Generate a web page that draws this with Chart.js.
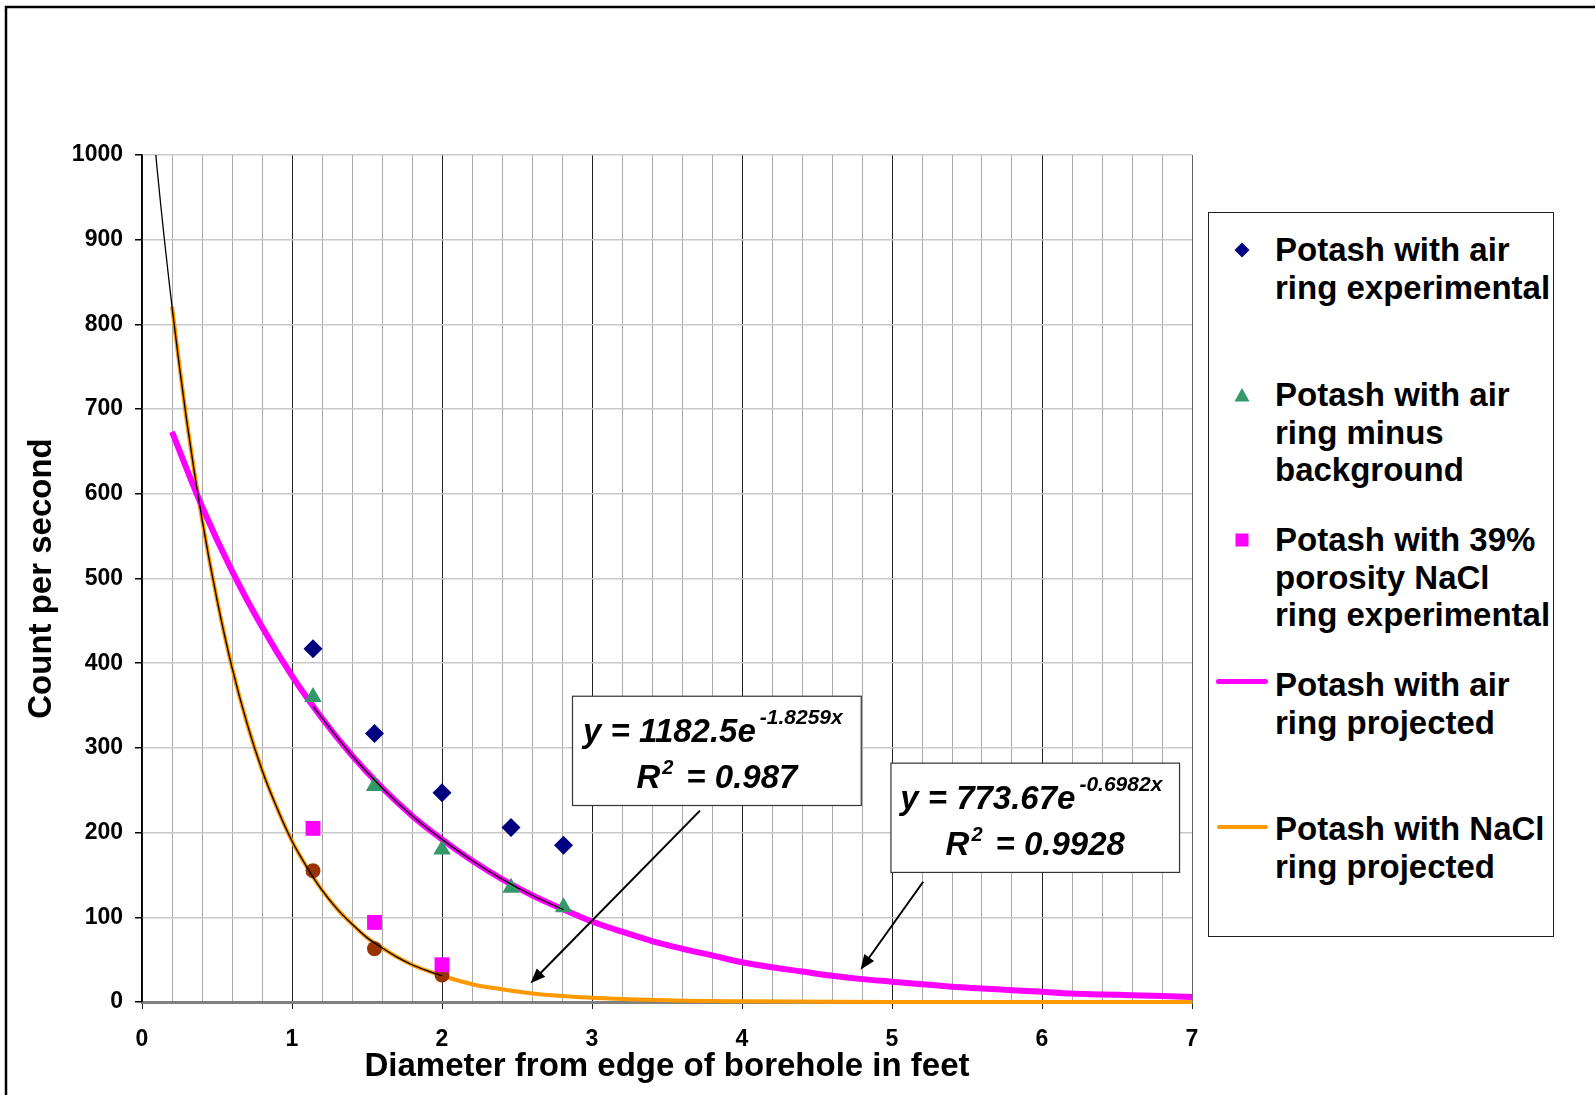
<!DOCTYPE html>
<html lang="en">
<head>
<meta charset="UTF-8">
<title>Count per second vs diameter from edge of borehole</title>
<script src="https://cdn.jsdelivr.net/npm/chart.js"></script>
<style>
    body { margin: 0; background: #fff; }
    #wrap { position: relative; width: 1595px; height: 1095px; }
    #legend {
        position: absolute; left: 1208px; top: 212px; width: 346px; height: 725px;
        box-sizing: border-box; border: 1px solid #222; background: #fff;
        font: bold 33px "Liberation Sans", Arial, sans-serif; color: #000;
    }
    #legend .entry { position: absolute; left: 66px; line-height: 37.7px; white-space: nowrap; }
    #legend .mark { position: absolute; line-height: 0; }
    #legend .mark svg { display: block; }
</style>
</head>
<body>
<div id="wrap">
    <canvas id="chart" width="1595" height="1095"></canvas>
    <div id="legend"></div>
</div>
<script>
// measured points
const airX = [1.14, 1.55, 2.0, 2.46, 2.81];
const airExperimental = [417, 317, 247, 206, 185];
const airMinusBackground = [360, 255, 180, 135, 112];
const naclX = [1.14, 1.55, 2.0];
const naclExperimental = [205, 94, 44];
const naclMinusBackground = [155, 63, 32];

// projected curves
const airProjectedX = [0.2, 0.4, 0.6, 0.8, 1.0, 1.2, 1.4, 1.6, 1.8, 2.0, 2.2, 2.4, 2.6, 2.8, 3.0, 3.2, 3.4, 3.6,
    3.8, 4.0, 4.2, 4.4, 4.6, 4.8, 5.0, 5.2, 5.4, 5.6, 5.8, 6.0, 6.2, 6.4, 6.6, 6.8, 7.0];
const airProjected = [673, 585, 509, 443, 385, 335, 291, 253, 220, 192, 167, 145, 126, 110, 95, 83, 72, 63,
    55, 47, 41, 36, 31, 27, 24, 21, 18, 16, 14, 12, 10, 9, 8, 7, 6];
const naclProjectedX = [0.2, 0.3, 0.4, 0.5, 0.6, 0.7, 0.8, 0.9, 1.0, 1.1, 1.2, 1.3, 1.4, 1.5, 1.6, 1.7, 1.8, 1.9, 2.0,
    2.2, 2.4, 2.6, 2.8, 3.0, 3.5, 4.0, 5.0, 6.0, 7.0];
const naclProjected = [821, 684, 570, 475, 395, 329, 274, 229, 190, 159, 132, 110, 92, 76, 64, 53, 44, 37, 31,
    21, 15, 10, 7, 5, 2, 0.8, 0.1, 0, 0];

// excel trendlines through the "minus background" points
const naclTrendX = [0, 0.1, 0.2, 0.3, 0.4, 0.5, 0.6, 0.7, 0.8, 0.9, 1.0, 1.1, 1.2, 1.3, 1.4, 1.5, 1.6, 1.7, 1.8, 1.9, 2.0];
const naclTrend = [1183, 985, 821, 684, 570, 475, 395, 329, 274, 229, 190, 159, 132, 110, 92, 76, 64, 53, 44, 37, 31];
const airTrendX = [1.14, 1.4, 1.6, 1.8, 2.0, 2.2, 2.4, 2.6, 2.81];
const airTrend = [349, 291, 253, 220, 192, 167, 145, 126, 109];

const legendLabels = [
    ['Potash with air', 'ring experimental'],
    ['Potash with air', 'ring minus', 'background'],
    ['Potash with 39%', 'porosity NaCl', 'ring experimental'],
    ['Potash with air', 'ring projected'],
    ['Potash with NaCl', 'ring projected']
];

const fitEquations = [
    { main: 'y = 1182.5e', power: '-1.8259x', r2: '0.987' },
    { main: 'y = 773.67e', power: '-0.6982x', r2: '0.9928' }
];

const NAVY = '#000080', GREEN = '#339966', MAGENTA = '#ff00ff', ORANGE = '#ff9900', BROWN = '#993300';
const FONT = '"Liberation Sans", Arial, sans-serif';

function pts(xs, ys) {
    return xs.map((x, i) => ({ x: x, y: ys[i] }));
}

function isWhole(v) {
    return Math.abs(v - Math.round(v)) < 1e-6;
}

// text boxes (in axis units) and their arrows
const fitBoxes = [
    { box: [2.87, 361, 4.795, 232], from: [3.72, 226], to: [2.59, 22] },
    { box: [4.993, 282, 6.917, 153], from: [5.208, 142], to: [4.79, 38] }
];

function drawArrow(ctx, x1, y1, x2, y2) {
    const a = Math.atan2(y2 - y1, x2 - x1);
    const len = 15, half = 6;
    ctx.strokeStyle = '#000';
    ctx.fillStyle = '#000';
    ctx.lineWidth = 2;
    ctx.beginPath();
    ctx.moveTo(x1, y1);
    ctx.lineTo(x2 - Math.cos(a) * len * 0.8, y2 - Math.sin(a) * len * 0.8);
    ctx.stroke();
    ctx.beginPath();
    ctx.moveTo(x2, y2);
    ctx.lineTo(x2 - Math.cos(a) * len + Math.sin(a) * half, y2 - Math.sin(a) * len - Math.cos(a) * half);
    ctx.lineTo(x2 - Math.cos(a) * len - Math.sin(a) * half, y2 - Math.sin(a) * len + Math.cos(a) * half);
    ctx.closePath();
    ctx.fill();
}

// main text, a raised smaller part, then optional trailing text; centred on cx
function drawRaised(ctx, cx, baseY, main, sup, tail, o) {
    const mainFont = 'italic bold 33px ' + FONT;
    const supFont = 'italic bold ' + o.size + 'px ' + FONT;
    ctx.font = mainFont;
    const w1 = ctx.measureText(main).width;
    const w3 = tail ? ctx.measureText(tail).width : 0;
    ctx.font = supFont;
    const w2 = ctx.measureText(sup).width;
    const gap2 = tail ? o.gapAfter : 0;
    let x = cx - (w1 + o.gap + w2 + gap2 + w3) / 2;
    ctx.textAlign = 'left';
    ctx.textBaseline = 'alphabetic';
    ctx.fillStyle = '#000';
    ctx.font = mainFont;
    ctx.fillText(main, x, baseY);
    x += w1 + o.gap;
    ctx.font = supFont;
    ctx.fillText(sup, x, baseY - o.raise);
    x += w2 + gap2;
    if (tail) {
        ctx.font = mainFont;
        ctx.fillText(tail, x, baseY);
    }
}

const frame = {
    id: 'frame',
    beforeDraw(chart) {
        const ctx = chart.ctx;
        ctx.save();
        ctx.fillStyle = '#fff';
        ctx.fillRect(0, 0, chart.width, chart.height);
        ctx.strokeStyle = '#000';
        ctx.lineWidth = 2.5;
        ctx.beginPath();
        ctx.moveTo(6, chart.height);
        ctx.lineTo(6, 7);
        ctx.lineTo(chart.width, 7);
        ctx.stroke();
        ctx.restore();
    }
};

const fitNotes = {
    id: 'fitNotes',
    afterDatasetsDraw(chart) {
        const ctx = chart.ctx;
        const sx = chart.scales.x, sy = chart.scales.y;
        ctx.save();
        fitBoxes.forEach((b, i) => {
            const eq = fitEquations[i];
            const left = sx.getPixelForValue(b.box[0]), top = sy.getPixelForValue(b.box[1]);
            const right = sx.getPixelForValue(b.box[2]), bottom = sy.getPixelForValue(b.box[3]);
            drawArrow(ctx, sx.getPixelForValue(b.from[0]), sy.getPixelForValue(b.from[1]),
                sx.getPixelForValue(b.to[0]), sy.getPixelForValue(b.to[1]));
            ctx.fillStyle = '#fff';
            ctx.fillRect(left, top, right - left, bottom - top);
            ctx.strokeStyle = '#333';
            ctx.lineWidth = 1.2;
            ctx.strokeRect(left, top, right - left, bottom - top);
            const cx = (left + right) / 2;
            drawRaised(ctx, cx - 4, top + 45.5, eq.main, eq.power, '', { size: 21, raise: 18, gap: 4 });
            drawRaised(ctx, cx, top + 92, 'R', '2', '= ' + eq.r2, { size: 20, raise: 14, gap: 2, gapAfter: 13 });
        });
        ctx.restore();
    }
};

const chart = new Chart(document.getElementById('chart'), {
    type: 'scatter',
    data: {
        datasets: [
            {
                data: pts(airProjectedX, airProjected), showLine: true, pointRadius: 0, clip: 5,
                borderColor: MAGENTA, borderWidth: 6, cubicInterpolationMode: 'monotone', order: 3
            },
            {
                data: pts(naclProjectedX, naclProjected), showLine: true, pointRadius: 0, clip: 5,
                borderColor: ORANGE, borderWidth: 4, cubicInterpolationMode: 'monotone', order: 3
            },
            {
                data: pts(airX, airExperimental), pointStyle: 'rectRot', pointRadius: 9.5,
                backgroundColor: NAVY, borderColor: NAVY, borderWidth: 0, order: 2
            },
            {
                data: pts(airX, airMinusBackground), pointStyle: 'triangle', pointRadius: 10,
                backgroundColor: GREEN, borderColor: GREEN, borderWidth: 0, order: 2
            },
            {
                data: pts(naclX, naclExperimental), pointStyle: 'rect', pointRadius: 10.5,
                backgroundColor: MAGENTA, borderColor: MAGENTA, borderWidth: 0, order: 2
            },
            {
                data: pts(naclX, naclMinusBackground), pointStyle: 'circle', pointRadius: 7.5,
                backgroundColor: BROWN, borderColor: BROWN, borderWidth: 0, order: 2
            },
            {
                data: pts(naclTrendX, naclTrend), showLine: true, pointRadius: 0,
                borderColor: '#000', borderWidth: 1.3, cubicInterpolationMode: 'monotone', order: 1
            },
            {
                data: pts(airTrendX, airTrend), showLine: true, pointRadius: 0,
                borderColor: '#000', borderWidth: 1.3, cubicInterpolationMode: 'monotone', order: 1
            }
        ]
    },
    options: {
        responsive: false,
        animation: false,
        layout: { padding: { left: 0, top: 155, right: 403, bottom: 0 } },
        plugins: { legend: { display: false }, tooltip: { enabled: false } },
        scales: {
            x: {
                type: 'linear', min: 0, max: 7,
                afterFit: s => { s.height = 93; },
                ticks: {
                    stepSize: 0.2, maxTicksLimit: 50, autoSkip: false, maxRotation: 0, padding: 17,
                    color: '#000', font: { family: FONT, size: 23, weight: 'bold' },
                    callback: v => isWhole(v) ? String(Math.round(v)) : ''
                },
                grid: {
                    tickLength: 7,
                    color: c => {
                        const v = c.tick ? c.tick.value : 0;
                        if (isWhole(v)) return Math.round(v) === 7 ? '#666' : '#222';
                        return '#a8a8a8';
                    },
                    tickColor: c => (c.tick && isWhole(c.tick.value)) ? '#222' : 'rgba(0,0,0,0)',
                    lineWidth: 1
                },
                border: { color: '#808080', width: 3 },
                title: {
                    display: true, text: 'Diameter from edge of borehole in feet', color: '#000',
                    font: { family: FONT, size: 33, weight: 'bold' }, padding: { top: 0, bottom: 8 }
                }
            },
            y: {
                min: 0, max: 1000,
                afterFit: s => { s.width = 142; },
                ticks: {
                    stepSize: 100, padding: 12, color: '#000',
                    font: { family: FONT, size: 23, weight: 'bold' },
                    callback: v => String(v)
                },
                grid: { color: '#c8c8c8', lineWidth: 1.5, tickColor: '#000', tickLength: 7 },
                border: { color: '#000', width: 1.5 },
                title: {
                    display: true, text: 'Count per second', color: '#000',
                    font: { family: FONT, size: 33, weight: 'bold' }, padding: { top: 22, bottom: 0 }
                }
            }
        }
    },
    plugins: [frame, fitNotes]
});

// legend with multi-line entries
const legend = document.getElementById('legend');
const entryTops = [18, 163, 308, 453, 597];
const marks = [
    '<svg width="16" height="16"><polygon points="8,0.5 15.5,8 8,15.5 0.5,8" fill="' + NAVY + '"/></svg>',
    '<svg width="16" height="16"><polygon points="8,1 15.5,14.5 0.5,14.5" fill="' + GREEN + '"/></svg>',
    '<svg width="16" height="16"><rect x="1.5" y="1.5" width="13" height="13" fill="' + MAGENTA + '"/></svg>',
    '<div style="width:52px;height:5px;border-radius:3px;background:' + MAGENTA + '"></div>',
    '<div style="width:51px;height:4px;border-radius:2px;background:' + ORANGE + '"></div>'
];
const markPos = [[25, 29], [25, 174], [25, 319], [7, 465.5], [8, 612]];
legendLabels.forEach((lines, i) => {
    const e = document.createElement('div');
    e.className = 'entry';
    e.style.top = entryTops[i] + 'px';
    e.innerHTML = lines.join('<br>');
    legend.appendChild(e);
    const m = document.createElement('div');
    m.className = 'mark';
    m.style.left = markPos[i][0] + 'px';
    m.style.top = markPos[i][1] + 'px';
    m.innerHTML = marks[i];
    legend.appendChild(m);
});
</script>
</body>
</html>
